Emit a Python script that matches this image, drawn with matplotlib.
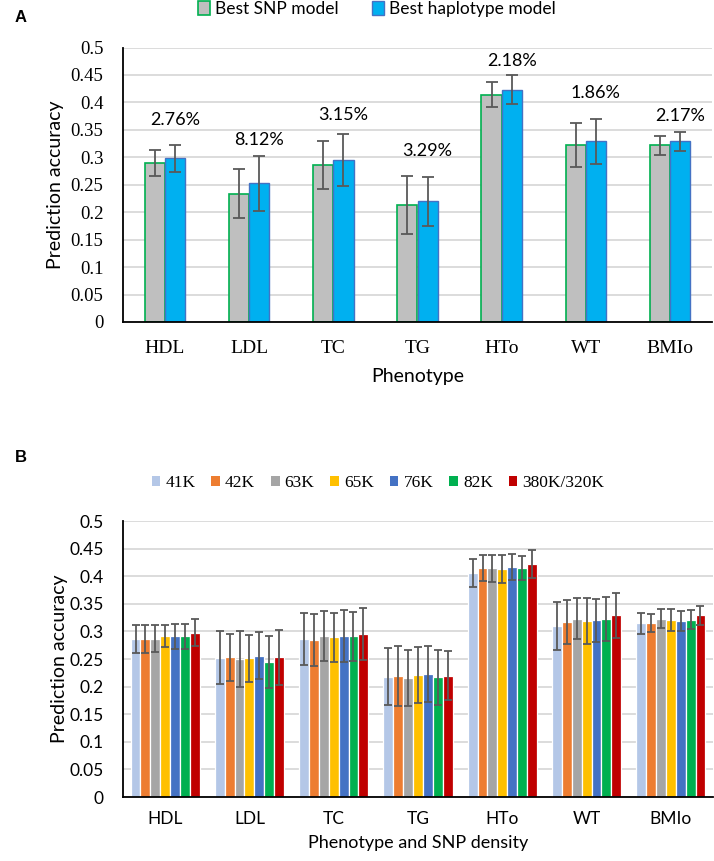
import matplotlib
matplotlib.use("Agg")
import matplotlib.pyplot as plt
from matplotlib.patches import Patch
import numpy as np

phenotypes = ["HDL", "LDL", "TC", "TG", "HTo", "WT", "BMIo"]

# panel A: best SNP model vs best haplotype model
snp_acc = [0.290, 0.234, 0.286, 0.213, 0.414, 0.323, 0.322]
snp_err = [0.024, 0.045, 0.043, 0.053, 0.023, 0.040, 0.017]
hap_acc = [0.298, 0.253, 0.295, 0.220, 0.423, 0.329, 0.329]
hap_err = [0.024, 0.050, 0.047, 0.045, 0.026, 0.041, 0.017]
gain_labels = ["2.76%", "8.12%", "3.15%", "3.29%", "2.18%", "1.86%", "2.17%"]
gain_label_y = [0.368, 0.332, 0.377, 0.312, 0.476, 0.417, 0.375]

# panel B: accuracy by SNP density
densities = ["41K", "42K", "63K", "65K", "76K", "82K", "380K/320K"]
dens_acc = [
    [0.286, 0.252, 0.287, 0.218, 0.406, 0.310, 0.315],
    [0.286, 0.253, 0.284, 0.219, 0.415, 0.317, 0.315],
    [0.287, 0.250, 0.292, 0.215, 0.414, 0.323, 0.323],
    [0.291, 0.251, 0.289, 0.221, 0.413, 0.319, 0.321],
    [0.291, 0.256, 0.291, 0.223, 0.417, 0.320, 0.319],
    [0.291, 0.244, 0.291, 0.217, 0.415, 0.323, 0.321],
    [0.298, 0.253, 0.295, 0.220, 0.422, 0.329, 0.329],
]
dens_err = [
    [0.025, 0.048, 0.047, 0.052, 0.025, 0.043, 0.019],
    [0.025, 0.042, 0.047, 0.054, 0.024, 0.039, 0.016],
    [0.025, 0.050, 0.045, 0.051, 0.024, 0.037, 0.017],
    [0.020, 0.043, 0.044, 0.050, 0.025, 0.041, 0.020],
    [0.023, 0.043, 0.047, 0.050, 0.024, 0.039, 0.018],
    [0.023, 0.047, 0.045, 0.050, 0.022, 0.040, 0.017],
    [0.024, 0.050, 0.047, 0.045, 0.026, 0.041, 0.017],
]
dens_colors = ["#B4C7E7", "#ED7D31", "#A5A5A5", "#FFC000", "#4472C4", "#00B050", "#C00000"]

SANS = "Lato"
SERIF = "Liberation Serif"
GRID = "#D9D9D9"
ERR = "#595959"
yticks = np.arange(0, 0.501, 0.05)
ytick_labels = ["0" if v == 0 else ("%.2f" % v).rstrip("0") for v in yticks]

W, H = 714, 861
fig = plt.figure(figsize=(W / 100, H / 100), dpi=100)


def style_axis(ax):
    ax.set_ylim(0, 0.5)
    ax.set_xlim(-0.5, len(phenotypes) - 0.5)
    ax.set_yticks(yticks)
    ax.yaxis.grid(True, color=GRID, linewidth=1.3)
    ax.set_axisbelow(True)
    for s in ["top", "right"]:
        ax.spines[s].set_visible(False)
    ax.spines["left"].set_linewidth(1.3)
    ax.spines["bottom"].set_linewidth(1.3)
    ax.tick_params(length=0)


x = np.arange(len(phenotypes))

# ---- panel A
axA = fig.add_axes([123 / W, 1 - 322 / H, 589 / W, 274.5 / H])
style_axis(axA)
bw = 0.24
axA.bar(x - bw / 2, snp_acc, bw, color="#BFBFBF", edgecolor="#00B050", linewidth=1.2,
        yerr=snp_err, error_kw=dict(ecolor=ERR, elinewidth=1.3, capsize=4, capthick=1.3))
axA.bar(x + bw / 2, hap_acc, bw, color="#00B0F0", edgecolor="#4472C4", linewidth=1.0,
        yerr=hap_err, error_kw=dict(ecolor=ERR, elinewidth=1.3, capsize=4, capthick=1.3))
for i, (t, yy) in enumerate(zip(gain_labels, gain_label_y)):
    axA.text(i + 0.12, yy, t, ha="center", va="center", fontsize=13, family=SANS)
axA.set_yticklabels(ytick_labels, family=SERIF, fontsize=13.5)
axA.set_xticks(x)
axA.set_xticklabels(phenotypes, family=SERIF, fontsize=14)
axA.tick_params(axis="x", pad=13)
axA.tick_params(axis="y", pad=14)
axA.set_ylabel("Prediction accuracy", family=SANS, fontsize=14, labelpad=5)
axA.set_xlabel("Phenotype", family=SANS, fontsize=14, labelpad=8)

fig.legend(handles=[Patch(facecolor="#BFBFBF", edgecolor="#00B050", linewidth=1.2),
                    Patch(facecolor="#00B0F0", edgecolor="#4472C4", linewidth=1.0)],
           labels=["Best SNP model", "Best haplotype model"],
           loc="center", bbox_to_anchor=(377 / W, 1 - 9 / H), ncol=2, frameon=False,
           prop=dict(family=SANS, size=12.5), handlelength=0.7, handleheight=0.8,
           handletextpad=0.3, columnspacing=1.9)

# ---- panel B
axB = fig.add_axes([123 / W, 1 - 797 / H, 590 / W, 276 / H])
style_axis(axB)
nb = len(densities)
bwb = 0.117
for j in range(nb):
    axB.bar(x + (j - (nb - 1) / 2) * bwb, dens_acc[j], bwb, color=dens_colors[j],
            edgecolor="white", linewidth=0.9, yerr=dens_err[j],
            error_kw=dict(ecolor=ERR, elinewidth=1.3, capsize=3.2, capthick=1.3))
axB.set_yticklabels(ytick_labels, family=SANS, fontsize=12.5)
axB.set_xticks(x)
axB.set_xticklabels(phenotypes, family=SANS, fontsize=12.5)
axB.tick_params(axis="x", pad=10)
axB.tick_params(axis="y", pad=14)
axB.set_ylabel("Prediction accuracy", family=SANS, fontsize=14, labelpad=1)
axB.set_xlabel("Phenotype and SNP density", family=SANS, fontsize=13, labelpad=6)

fig.legend(handles=[Patch(facecolor=c) for c in dens_colors], labels=densities,
           loc="center", bbox_to_anchor=(378 / W, 1 - 483 / H), ncol=nb, frameon=False,
           prop=dict(family=SERIF, size=12.5), handlelength=0.5, handleheight=0.55,
           handletextpad=0.3, columnspacing=0.9)

fig.text(15 / W, 1 - 18 / H, "A", fontsize=12, fontweight="bold", family="Liberation Sans", va="center")
fig.text(15 / W, 1 - 457 / H, "B", fontsize=12, fontweight="bold", family="Liberation Sans", va="center")

fig.savefig("out.png", dpi=100)
